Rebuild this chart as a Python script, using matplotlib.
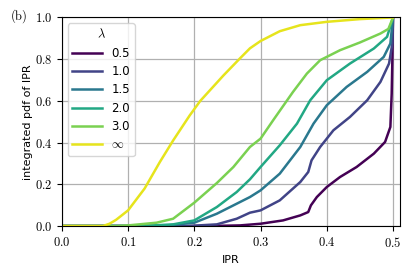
import numpy as np
import matplotlib
matplotlib.use('Agg')
import matplotlib.pyplot as plt

plt.rcParams['mathtext.fontset'] = 'cm'

# integrated pdf of IPR
x_inf = [0.0, 0.062, 0.072, 0.082, 0.1, 0.125, 0.148, 0.168, 0.193, 0.209, 0.244, 0.269,
         0.284, 0.3, 0.329, 0.36, 0.4, 0.45, 0.5]
y_inf = [0.0, 0.0, 0.011, 0.03, 0.075, 0.18, 0.307, 0.41, 0.53, 0.60, 0.722, 0.804,
         0.852, 0.887, 0.934, 0.963, 0.979, 0.992, 1.0]

x_30 = [0.0, 0.08, 0.1, 0.143, 0.168, 0.2, 0.234, 0.259, 0.284, 0.3, 0.319, 0.349,
        0.37, 0.39, 0.42, 0.45, 0.481, 0.493, 0.5]
y_30 = [0.0, 0.0, 0.003, 0.016, 0.035, 0.112, 0.206, 0.283, 0.379, 0.419, 0.507, 0.643,
        0.731, 0.795, 0.843, 0.88, 0.923, 0.945, 1.0]

x_20 = [0.0, 0.12, 0.168, 0.2, 0.234, 0.264, 0.284, 0.3, 0.329, 0.355, 0.375, 0.4,
        0.435, 0.471, 0.491, 0.5]
y_20 = [0.0, 0.0, 0.008, 0.027, 0.091, 0.163, 0.224, 0.283, 0.387, 0.491, 0.603, 0.699,
        0.779, 0.851, 0.907, 1.0]

x_15 = [0.0, 0.15, 0.2, 0.234, 0.264, 0.284, 0.3, 0.329, 0.36, 0.38, 0.4, 0.43,
        0.461, 0.486, 0.496, 0.5]
y_15 = [0.0, 0.0, 0.016, 0.059, 0.107, 0.139, 0.171, 0.251, 0.379, 0.491, 0.579, 0.667,
        0.739, 0.811, 0.875, 1.0]

x_10 = [0.0, 0.19, 0.234, 0.264, 0.284, 0.3, 0.329, 0.36, 0.372, 0.377, 0.39, 0.41,
        0.435, 0.461, 0.481, 0.494, 0.499, 0.5]
y_10 = [0.0, 0.0, 0.008, 0.035, 0.064, 0.075, 0.123, 0.211, 0.259, 0.315, 0.379, 0.459,
        0.523, 0.603, 0.691, 0.779, 0.875, 1.0]

x_05 = [0.0, 0.22, 0.269, 0.3, 0.334, 0.36, 0.372, 0.376, 0.385, 0.4, 0.42, 0.445,
        0.471, 0.488, 0.496, 0.498, 0.499, 0.5]
y_05 = [0.0, 0.0, 0.003, 0.011, 0.027, 0.051, 0.067, 0.099, 0.139, 0.187, 0.235, 0.283,
        0.347, 0.403, 0.475, 0.635, 0.795, 1.0]

labels = ['0.5', '1.0', '1.5', '2.0', '3.0', r'$\infty$']
series = [(x_05, y_05), (x_10, y_10), (x_15, y_15), (x_20, y_20), (x_30, y_30), (x_inf, y_inf)]
colors = list(plt.cm.viridis(np.linspace(0, 1, len(series))))
colors[-1] = '#e6e41c'

fig = plt.figure(figsize=(4.15, 2.77), dpi=100)
ax = fig.add_axes([0.149, 0.184, 0.814, 0.753])

for (xs, ys), c, lab in zip(series, colors, labels):
    ax.plot(xs, ys, color=c, lw=1.8, label=lab)

ax.set_xlim(0, 0.51)
ax.set_ylim(0, 1)
ax.set_xticks([0.0, 0.1, 0.2, 0.3, 0.4, 0.5])
ax.set_xticklabels([r'$%.1f$' % v for v in [0.0, 0.1, 0.2, 0.3, 0.4, 0.5]], fontsize=9)
ax.set_yticks([0.0, 0.2, 0.4, 0.6, 0.8, 1.0])
ax.set_yticklabels([r'$%.1f$' % v for v in [0.0, 0.2, 0.4, 0.6, 0.8, 1.0]], fontsize=9)
ax.grid(True, color='#b0b0b0', lw=0.9)
ax.set_axisbelow(True)
ax.set_xlabel('IPR', fontsize=8)
ax.set_ylabel('integrated pdf of IPR', fontsize=8, labelpad=1)

leg = ax.legend(title=r'$\lambda$', loc='upper left', fontsize=8.5, handlelength=2.5,
                title_fontsize=9, labelspacing=0.45)

fig.text(0.025, 0.93, r'$\mathrm{(b)}$', fontsize=9)

fig.savefig('out.png', dpi=100)
